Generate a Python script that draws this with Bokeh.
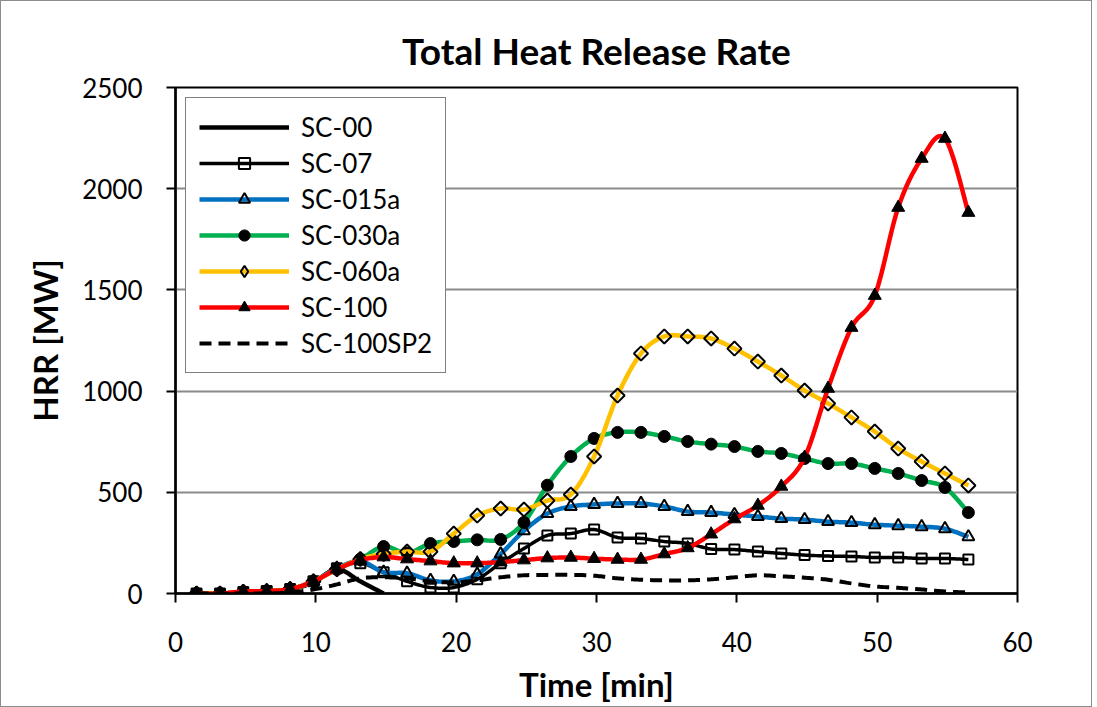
import numpy as np
from bokeh.plotting import figure
from bokeh.models import Range1d, FixedTicker, Legend, LegendItem
from bokeh.embed import file_html
from bokeh.resources import INLINE

# ---------------- data ----------------
time_min = [1.5, 3.17, 4.83, 6.5, 8.17, 9.83, 11.5, 13.17, 14.83, 16.5, 18.17, 19.83,
            21.5, 23.17, 24.83, 26.5, 28.17, 29.83, 31.5, 33.17, 34.83, 36.5, 38.17,
            39.83, 41.5, 43.17, 44.83, 46.5, 48.17, 49.83, 51.5, 53.17, 54.83, 56.5]

sc_00 = [0, 0, 5, 10, 20, 55, 120, 60, 0]

sc_07 = [0, 0, 8, 12, 22, 60, 125, 150, 105, 60, 30, 30, 70, 150, 222, 287, 296, 316,
         277, 272, 257, 247, 220, 217, 207, 198, 190, 185, 183, 178, 178, 173, 173, 168]

sc_015a = [0, 0, 8, 12, 22, 60, 125, 160, 105, 100, 65, 60, 95, 195, 310, 395, 430, 440,
           445, 445, 430, 405, 400, 390, 380, 370, 365, 355, 350, 340, 335, 330, 320, 280]

sc_030a = [0, 0, 8, 12, 22, 60, 120, 170, 232, 200, 247, 257, 265, 267, 351, 535, 677, 766,
           796, 796, 776, 751, 738, 726, 702, 692, 667, 642, 642, 618, 593, 558, 524, 400]

sc_060a = [0, 0, 8, 12, 22, 60, 120, 170, 195, 207, 207, 296, 385, 420, 415, 459, 489, 677,
           978, 1186, 1270, 1270, 1260, 1210, 1146, 1077, 1003, 939, 870, 800, 716, 652, 593, 534]

sc_100 = [0, 0, 10, 12, 22, 60, 120, 165, 180, 170, 160, 150, 150, 155, 165, 175, 178, 172,
          168, 168, 195, 225, 293, 368, 435, 529, 672, 1013, 1314, 1472, 1907, 2149, 2248, 1882]

sc_100sp2 = [0, 0, 0, 0, 5, 20, 45, 75, 80, 75, 60, 55, 65, 80, 90, 92, 92, 88, 75, 68,
             65, 65, 70, 80, 90, 85, 78, 68, 50, 35, 28, 20, 10, 5]

x_ticks = [0, 10, 20, 30, 40, 50, 60]
y_ticks = [0, 500, 1000, 1500, 2000, 2500]

FONT = "Lato"


def smooth(xs, ys, n=14):
    """Excel-like smoothed curve (Catmull-Rom / cubic Bezier) through the data points."""
    P = np.column_stack([np.asarray(xs, float), np.asarray(ys, float)])
    m = len(P)
    out = [P[0]]
    t = np.linspace(0, 1, n + 1)[1:, None]
    for i in range(m - 1):
        p0 = P[i - 1] if i > 0 else P[i]
        p1 = P[i]
        p2 = P[i + 1]
        p3 = P[i + 2] if i + 2 < m else P[i + 1]
        c1 = p1 + (p2 - p0) / 6.0
        c2 = p2 - (p3 - p1) / 6.0
        seg = ((1 - t) ** 3) * p1 + 3 * ((1 - t) ** 2) * t * c1 + 3 * (1 - t) * t ** 2 * c2 + t ** 3 * p2
        out.extend(seg)
    out = np.array(out)
    return out[:, 0], out[:, 1]


p = figure(frame_width=842, frame_height=506, output_backend="svg", toolbar_location=None,
           x_range=Range1d(0, 60), y_range=Range1d(0, 2500),
           min_border_left=174, min_border_right=74, min_border_top=86, min_border_bottom=112,
           title="Total Heat Release Rate")
p.styles = {"border": "1.5px solid #8c8c8c", "box-sizing": "border-box"}

p.title.align = "center"
p.title.text_font = FONT
p.title.text_font_size = "37px"
p.title.text_font_style = "bold"
p.title.text_color = "black"
p.title.standoff = 30

p.outline_line_color = "black"
p.outline_line_width = 2

p.xgrid.visible = False
p.ygrid.grid_line_color = "#8a8a8a"
p.ygrid.grid_line_width = 2

p.xaxis.ticker = FixedTicker(ticks=x_ticks)
p.yaxis.ticker = FixedTicker(ticks=y_ticks)
for ax in (p.xaxis, p.yaxis):
    ax.axis_line_color = "black"
    ax.axis_line_width = 2.5
    ax.major_tick_line_color = "black"
    ax.major_tick_line_width = 2
    ax.major_tick_out = 9
    ax.major_tick_in = 0
    ax.minor_tick_line_color = None
    ax.major_label_text_font = FONT
    ax.major_label_text_font_size = "26px"
    ax.major_label_text_color = "black"
    ax.axis_label_text_font = FONT
    ax.axis_label_text_font_size = "33px"
    ax.axis_label_text_font_style = "bold"
    ax.axis_label_text_color = "black"

p.xaxis.axis_label = "Time [min]"
p.yaxis.axis_label = "HRR [MW]"
p.xaxis.major_label_standoff = 29
p.yaxis.major_label_standoff = 24
p.xaxis.axis_label_standoff = 9
p.yaxis.axis_label_standoff = 14

t = time_min
items = []

# SC-00
sx, sy = smooth(t[:len(sc_00)], sc_00)
r = p.line(sx, sy, line_color="black", line_width=4.5)
items.append(LegendItem(label="SC-00", renderers=[r]))

# SC-07
sx, sy = smooth(t, sc_07)
r1 = p.line(sx, sy, line_color="black", line_width=3.5)
r2 = p.scatter(t, sc_07, marker="square", size=10, fill_alpha=0, line_color="black", line_width=2)
items.append(LegendItem(label="SC-07", renderers=[r1, r2]))

# SC-015a
sx, sy = smooth(t, sc_015a)
r1 = p.line(sx, sy, line_color="#0070C0", line_width=4.5)
r2 = p.scatter(t, sc_015a, marker="triangle", size=12, fill_alpha=0, line_color="black", line_width=2)
items.append(LegendItem(label="SC-015a", renderers=[r1, r2]))

# SC-030a
sx, sy = smooth(t, sc_030a)
r1 = p.line(sx, sy, line_color="#00B050", line_width=4.5)
r2 = p.scatter(t, sc_030a, marker="circle", size=12, fill_color="black", line_color="black")
items.append(LegendItem(label="SC-030a", renderers=[r1, r2]))

# SC-060a
sx, sy = smooth(t, sc_060a)
r1 = p.line(sx, sy, line_color="#FFC000", line_width=4.5)
r2 = p.scatter(t, sc_060a, marker="square", angle=np.pi / 4, size=10, fill_alpha=0,
               line_color="black", line_width=2)
# legend-only diamond swatch (no visible data)
r3 = p.scatter([np.nan], [np.nan], marker="diamond", size=18, fill_alpha=0,
               line_color="black", line_width=2)
items.append(LegendItem(label="SC-060a", renderers=[r1, r3]))

# SC-100
sx, sy = smooth(t, sc_100)
r1 = p.line(sx, sy, line_color="#FF0000", line_width=4.5)
r2 = p.scatter(t, sc_100, marker="triangle", size=13, fill_color="black", line_color="black")
items.append(LegendItem(label="SC-100", renderers=[r1, r2]))

# SC-100SP2
sx, sy = smooth(t, sc_100sp2)
r = p.line(sx, sy, line_color="black", line_width=4, line_dash="12 7")
items.append(LegendItem(label="SC-100SP2", renderers=[r]))

legend = Legend(items=items, location="top_left")
legend.margin = 10
legend.padding = 13
legend.spacing = 4
legend.glyph_width = 90
legend.glyph_height = 28
legend.label_height = 28
legend.label_standoff = 12
legend.label_text_font = FONT
legend.label_text_font_size = "26px"
legend.label_text_color = "black"
legend.border_line_color = "black"
legend.border_line_width = 1.5
legend.background_fill_alpha = 1
p.add_layout(legend)

open("out.html", "w").write(file_html(p, INLINE))
